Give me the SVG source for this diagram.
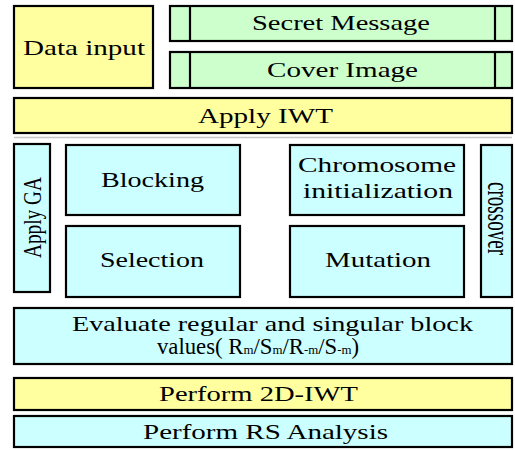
<svg xmlns="http://www.w3.org/2000/svg" width="515" height="450" viewBox="0 0 515 450">
<style>
rect{stroke:#000;stroke-width:2.2}
.y{fill:#ffff9f}
.g{fill:#ccffcc}
.c{fill:#ccffff}
text{font-family:"Liberation Serif","Times New Roman",serif;font-size:21px;fill:#000}
.v{font-size:25px}
.s{font-size:13px}
line{stroke:#000;stroke-width:2.2}
</style>
<rect x="0" y="0" width="515" height="450" style="fill:#fff;stroke:none"/>
<g id="data-input"><rect class="y" x="14" y="6" width="139" height="82"/><text x="23" y="55" textLength="122" lengthAdjust="spacingAndGlyphs">Data input</text></g>
<g id="secret-message"><rect class="g" x="170" y="6" width="342" height="35"/><line x1="190" y1="6" x2="190" y2="41"/><line x1="495" y1="6" x2="495" y2="41"/><text x="252" y="30" textLength="178" lengthAdjust="spacingAndGlyphs">Secret Message</text></g>
<g id="cover-image"><rect class="g" x="170" y="52" width="342" height="36"/><line x1="190" y1="52" x2="190" y2="88"/><line x1="495" y1="52" x2="495" y2="88"/><text x="267" y="77" textLength="151" lengthAdjust="spacingAndGlyphs">Cover Image</text></g>
<g id="apply-iwt"><rect class="y" x="14" y="98" width="498" height="35"/><text x="198" y="123" textLength="135" lengthAdjust="spacingAndGlyphs">Apply IWT</text></g>
<line x1="14" y1="137.5" x2="512" y2="137.5" style="stroke:#c8c8c8;stroke-width:1.5"/>
<g id="apply-ga"><rect class="c" x="14" y="144" width="36" height="148"/><text class="v" transform="translate(41,258) rotate(-90)" x="0" y="0" textLength="81" lengthAdjust="spacingAndGlyphs">Apply GA</text></g>
<g id="blocking"><rect class="c" x="66" y="145" width="174" height="70"/><text x="101" y="187" textLength="103" lengthAdjust="spacingAndGlyphs">Blocking</text></g>
<g id="selection"><rect class="c" x="66" y="226" width="174" height="71"/><text x="100" y="267" textLength="104" lengthAdjust="spacingAndGlyphs">Selection</text></g>
<g id="chromosome"><rect class="c" x="290" y="145" width="174" height="70"/><text x="298" y="172" textLength="158" lengthAdjust="spacingAndGlyphs">Chromosome</text><text x="303" y="198" textLength="150" lengthAdjust="spacingAndGlyphs">initialization</text></g>
<g id="mutation"><rect class="c" x="290" y="226" width="174" height="71"/><text x="325" y="267" textLength="106" lengthAdjust="spacingAndGlyphs">Mutation</text></g>
<g id="crossover"><rect class="c" x="481" y="145" width="31" height="152"/><text transform="translate(488,182) rotate(90)" x="0" y="0" textLength="73" lengthAdjust="spacingAndGlyphs" style="font-size:31px">crossover</text></g>
<g id="evaluate"><rect class="c" x="14" y="308" width="498" height="56"/><text x="72" y="331" textLength="401" lengthAdjust="spacingAndGlyphs">Evaluate regular and singular block</text><text x="157" y="354" textLength="202" lengthAdjust="spacingAndGlyphs" style="font-size:23px">values( R<tspan class="s">m</tspan>/S<tspan class="s">m</tspan>/R<tspan class="s">-m</tspan>/S<tspan class="s">-m</tspan>)</text></g>
<g id="perform-2d-iwt"><rect class="y" x="14" y="378" width="498" height="32"/><text x="159" y="401" textLength="199" lengthAdjust="spacingAndGlyphs">Perform 2D-IWT</text></g>
<g id="perform-rs"><rect class="c" x="14" y="416" width="498" height="31"/><text x="143" y="439" textLength="245" lengthAdjust="spacingAndGlyphs">Perform RS Analysis</text></g>
<g id="connectors"></g>
</svg>
